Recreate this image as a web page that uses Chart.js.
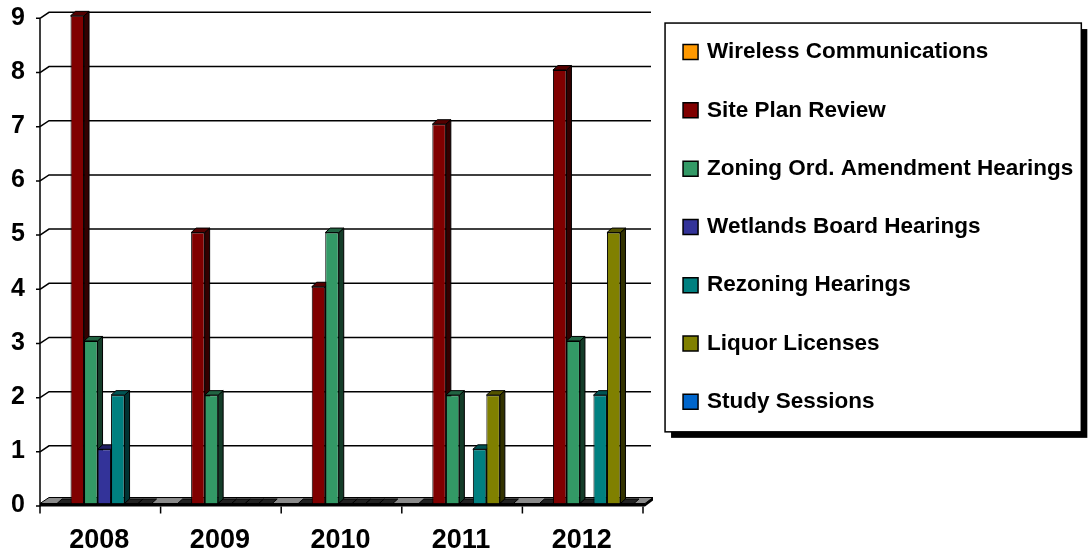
<!DOCTYPE html>
<html>
<head>
<meta charset="utf-8">
<script src="https://cdn.jsdelivr.net/npm/chart.js@4.4.1/dist/chart.umd.min.js"></script>
<style>
  body { margin: 0; background: #fff; }
</style>
</head>
<body>
<canvas id="boardChart" width="1090" height="558"></canvas>
<script>
// Data
const years = ['2008', '2009', '2010', '2011', '2012'];
const wirelessComm = [0, 0, 0, 0, 0];
const sitePlanReview = [9, 5, 4, 7, 8];
const zoningAmendments = [3, 2, 5, 2, 3];
const wetlandsBoard = [1, 0, 0, 0, 0];
const rezoningHearings = [2, 0, 0, 1, 2];
const liquorLicenses = [0, 0, 0, 2, 5];
const studySessions = [0, 0, 0, 0, 0];
const yMax = 9;

const seriesNames = ['Wireless Communications', 'Site Plan Review', 'Zoning Ord. Amendment Hearings',
  'Wetlands Board Hearings', 'Rezoning Hearings', 'Liquor Licenses', 'Study Sessions'];
const seriesValues = [wirelessComm, sitePlanReview, zoningAmendments, wetlandsBoard,
  rezoningHearings, liquorLicenses, studySessions];
const seriesColors = ['#FF9900', '#800000', '#339966', '#333399', '#008080', '#808000', '#0066CC'];

const FONT = '"Liberation Sans", Arial, sans-serif';
Chart.defaults.font.family = FONT;
Chart.defaults.color = '#000';

// legend sizing
const LEGEND_FONT = 22.5;
const LEGEND_PAD = 35.8;
const LEGEND_BOX = 10.5;
const LEGEND_LEFT = 649.5;
const mctx = document.createElement('canvas').getContext('2d');
mctx.font = 'bold ' + LEGEND_FONT + 'px ' + FONT;
const widest = Math.max(...seriesNames.map(n => mctx.measureText(n).width));
const legendWidth = LEGEND_PAD + LEGEND_BOX + LEGEND_FONT / 2 + widest + 10;
const padRight = Math.max(0, 1090 - LEGEND_LEFT - legendWidth);

function shade(hex, f) {
  const n = parseInt(hex.slice(1), 16);
  const r = Math.round(((n >> 16) & 255) * f);
  const g = Math.round(((n >> 8) & 255) * f);
  const b = Math.round((n & 255) * f);
  return `rgb(${r},${g},${b})`;
}

const DX = 5, DY = -4.5;   // bar depth
const WX = 9, WY = -6;     // floor / wall depth

const pseudo3d = {
  id: 'pseudo3d',
  beforeDraw(chart) {
    const {ctx} = chart;
    ctx.save();
    ctx.fillStyle = '#fff';
    ctx.fillRect(0, 0, chart.width, chart.height);

    // legend frame with drop shadow
    const hb = chart.legend.legendHitBoxes;
    if (hb && hb.length) {
      const first = hb[0], last = hb[hb.length - 1];
      const left = first.left - 20.25;
      const top = first.top - 17.75;
      const right = Math.max(...hb.map(h => h.left + h.width)) + 8;
      const bottom = last.top + 41.25;
      ctx.fillStyle = '#000';
      ctx.fillRect(left + 6, top + 6, right - left, bottom - top);
      ctx.fillStyle = '#fff';
      ctx.fillRect(left, top, right - left, bottom - top);
      ctx.lineWidth = 1.5;
      ctx.strokeStyle = '#000';
      ctx.strokeRect(left, top, right - left, bottom - top);
    }
    ctx.restore();
  },
  beforeDatasetsDraw(chart) {
    const {ctx, chartArea: a, scales: {x, y}} = chart;
    const L = a.left - 4, R = a.right - 2;
    const p0 = y.getPixelForValue(0);
    ctx.save();

    // back wall gridlines
    ctx.strokeStyle = '#000';
    ctx.lineWidth = 1.5;
    y.ticks.forEach(t => {
      const py = y.getPixelForValue(t.value);
      ctx.beginPath();
      ctx.moveTo(L, py + 2.5);
      ctx.lineTo(L + WX, py - 3.5);
      ctx.lineTo(a.right + 4, py - 3.5);
      ctx.stroke();
    });

    // floor slab
    ctx.fillStyle = '#8a8a8a';
    ctx.beginPath();
    ctx.moveTo(L, p0);
    ctx.lineTo(R, p0);
    ctx.lineTo(R + 8, p0 + WY);
    ctx.lineTo(L + WX, p0 + WY);
    ctx.closePath();
    ctx.fill();
    ctx.lineWidth = 1;
    ctx.stroke();
    ctx.fillStyle = '#000';
    ctx.fillRect(L, p0, R - L, 3);
    ctx.beginPath();
    ctx.moveTo(R, p0);
    ctx.lineTo(R + 8, p0 + WY);
    ctx.lineTo(R + 8, p0 + WY + 3);
    ctx.lineTo(R, p0 + 3);
    ctx.closePath();
    ctx.fill();

    // front value axis
    ctx.lineWidth = 1.5;
    ctx.beginPath();
    ctx.moveTo(L, y.getPixelForValue(yMax) + 2.5);
    ctx.lineTo(L, p0 + 10);
    y.ticks.forEach(t => {
      const py = y.getPixelForValue(t.value) + 2.5;
      ctx.moveTo(L - 4, py);
      ctx.lineTo(L, py);
    });
    // category boundary ticks
    const step = x.getPixelForValue(1) - x.getPixelForValue(0);
    for (let i = 1; i <= years.length; i++) {
      const bx = x.getPixelForValue(i - 1) + step / 2 - 4;
      ctx.moveTo(bx, p0 + 3);
      ctx.lineTo(bx, p0 + 10);
    }
    ctx.stroke();

    // bar sides, tops and empty plates
    ctx.lineWidth = 1;
    chart.data.datasets.forEach((ds, di) => {
      const meta = chart.getDatasetMeta(di);
      meta.data.forEach(bar => {
        const {x: cx, y: top, base, width} = bar.getProps(['x', 'y', 'base', 'width'], true);
        const l = cx - width / 2, r = cx + width / 2;
        ctx.strokeStyle = '#000';
        if (base - top < 0.5) {
          ctx.fillStyle = '#222';
          ctx.beginPath();
          ctx.moveTo(l, base);
          ctx.lineTo(r, base);
          ctx.lineTo(r + DX, base + DY);
          ctx.lineTo(l + DX, base + DY);
          ctx.closePath();
          ctx.fill();
          ctx.stroke();
          return;
        }
        ctx.fillStyle = shade(ds.backgroundColor, 0.4);
        ctx.beginPath();
        ctx.moveTo(r, top);
        ctx.lineTo(r + DX, top + DY);
        ctx.lineTo(r + DX, base + DY);
        ctx.lineTo(r, base);
        ctx.closePath();
        ctx.fill();
        ctx.stroke();
        ctx.fillStyle = shade(ds.backgroundColor, 0.65);
        ctx.beginPath();
        ctx.moveTo(l, top);
        ctx.lineTo(l + DX, top + DY);
        ctx.lineTo(r + DX, top + DY);
        ctx.lineTo(r, top);
        ctx.closePath();
        ctx.fill();
        ctx.stroke();
      });
    });
    ctx.restore();
  }
};

const ctx = document.getElementById('boardChart').getContext('2d');
const boardChart = new Chart(ctx, {
  type: 'bar',
  data: {
    labels: years,
    datasets: seriesNames.map((name, i) => ({
      label: name,
      data: seriesValues[i],
      backgroundColor: seriesColors[i],
      borderColor: '#000',
      borderWidth: 1
    }))
  },
  options: {
    responsive: false,
    animation: false,
    layout: { padding: { top: 5, right: padRight, bottom: 0, left: 0 } },
    datasets: { bar: { categoryPercentage: 0.784, barPercentage: 1 } },
    scales: {
      x: {
        grid: { display: false, drawTicks: false },
        border: { display: false },
        ticks: { padding: 21.3, labelOffset: -5, font: { size: 27, weight: 'bold' } },
        afterFit(s) { s.height = 54.5; s.paddingLeft = 0; s.paddingRight = 0; }
      },
      y: {
        min: 0,
        max: 9.2,
        grid: { display: false, drawTicks: false },
        border: { display: false },
        ticks: { stepSize: 1, includeBounds: false, padding: 19, labelOffset: 2,
                 font: { size: 25, weight: 'bold' } },
        afterFit(s) { s.width = 44; s.paddingTop = 0; s.paddingBottom = 0; }
      },
      yRight: {
        type: 'linear',
        position: 'right',
        grid: { display: false, drawTicks: false },
        border: { display: false },
        ticks: { display: false },
        afterFit(s) { s.width = LEGEND_LEFT - 647; s.paddingTop = 0; s.paddingBottom = 0; }
      }
    },
    plugins: {
      tooltip: { enabled: false },
      legend: {
        position: 'right',
        align: 'start',
        maxWidth: 470,
        labels: {
          usePointStyle: true,
          pointStyle: 'rect',
          boxWidth: LEGEND_BOX,
          boxHeight: 15,
          padding: LEGEND_PAD,
          color: '#000',
          font: { size: LEGEND_FONT, weight: 'bold' },
          generateLabels(chart) {
            return Chart.defaults.plugins.legend.labels.generateLabels(chart)
              .map(item => Object.assign(item, { lineWidth: 1.5 }));
          }
        }
      }
    }
  },
  plugins: [pseudo3d]
});
</script>
</body>
</html>
